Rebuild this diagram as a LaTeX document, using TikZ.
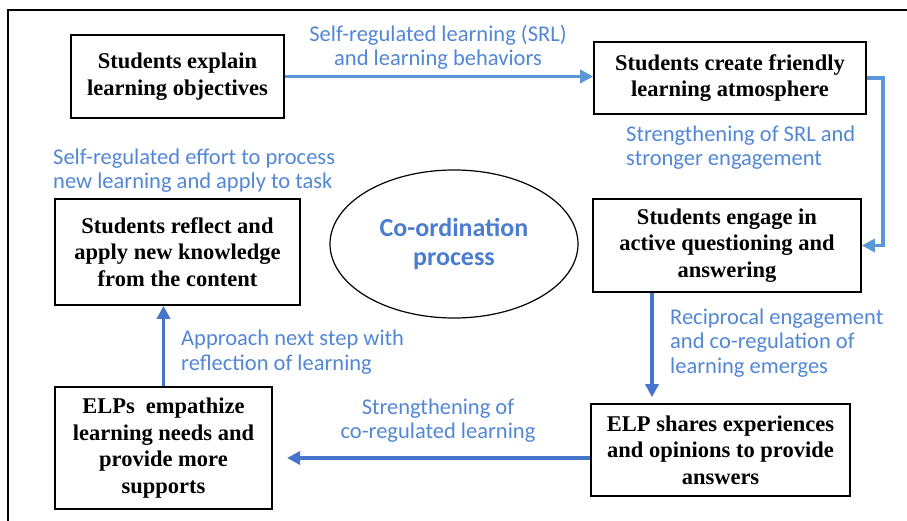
\documentclass[tikz,border=0pt]{standalone}
\usepackage{fontspec}
\setmainfont{Liberation Serif}
\newfontfamily\lblfont{Carlito}
\usetikzlibrary{arrows.meta,shapes.geometric}
\definecolor{lblblue}{HTML}{5287D6}
\definecolor{elblue}{HTML}{4A7DD0}
\definecolor{arrblue}{HTML}{4676CC}
\definecolor{arrlight}{HTML}{5B97D8}
\begin{document}
\begin{tikzpicture}[x=1pt,y=-1pt,
  boxnode/.style={draw=black, line width=1.6pt, align=center,
    font=\bfseries\fontsize{22.5}{26.5}\selectfont, inner sep=0pt},
  lbl/.style={text=lblblue, font=\lblfont\fontsize{22.5}{24.5}\selectfont, inner sep=0pt},
  flow/.style={draw=arrblue, line width=3.5pt, -{Triangle[length=13pt,width=13pt]}},
  flowlight/.style={flow, draw=arrlight},
]
\useasboundingbox (0,0) rectangle (907,521);
% frame
\draw[line width=1.5pt] (8,521) -- (8,10) -- (907,10);

% boxes
\node[boxnode, minimum width=213pt, minimum height=83pt] (b1) at (177.5,76.5)
  {Students explain\\learning objectives};
\node[boxnode, minimum width=272pt, minimum height=72pt] (b2) at (730,78)
  {Students create friendly\\learning atmosphere};
\node[boxnode, minimum width=268pt, minimum height=93pt] (b3) at (727,245.5)
  {Students engage in\\active questioning and\\answering};
\node[boxnode, minimum width=259pt, minimum height=92pt] (b4) at (720.5,450)
  {ELP shares experiences\\and opinions to provide\\answers};
\node[boxnode, minimum width=217pt, minimum height=122pt] (b5) at (163.5,448)
  {ELPs\ \ empathize\\learning needs and\\provide more\\supports};
\node[boxnode, minimum width=245pt, minimum height=106pt] (b6) at (177.5,252)
  {Students reflect and\\apply new knowledge\\from the content};

% ellipse
\node[ellipse, draw=black, line width=1.2pt, minimum width=248pt, minimum height=148pt,
  inner sep=0pt, align=center, text=elblue,
  font=\lblfont\bfseries\fontsize{26}{29}\selectfont] (el) at (454,244)
  {Co-ordination\\process};

% connectors
\coordinate (c3) at (652,0);
\coordinate (t4) at (287,458);
\draw[flowlight] (b1.east) -- (b1.east -| b2.west);
\draw[flowlight] (b2.east) -- ++(16,0) |- (b3.east);
\draw[flow, shorten >=6pt] (c3 |- b3.south) -- (c3 |- b4.north);
\draw[flow] (b4.west |- t4) -- (t4);
\draw[flow] (b5.north) -- (b5.north |- b6.south);

% labels
\node[lbl, align=center] (l1) at (438,47)
  {Self-regulated learning (SRL)\\and learning behaviors};
\node[lbl, align=left, anchor=west] (l2) at (626,147.5)
  {Strengthening of SRL and\\stronger engagement};
\node[lbl, align=left, anchor=west] (l3) at (670,343)
  {Reciprocal engagement\\and co-regulation of\\learning emerges};
\node[lbl, align=center] (l4) at (438,420.5)
  {Strengthening of\\co-regulated learning};
\node[lbl, align=left, anchor=west] (l5) at (181,352)
  {Approach next step with\\reflection of learning};
\node[lbl, align=left, anchor=west] (l6) at (53,170.5)
  {Self-regulated effort to process\\new learning and apply to task};
\end{tikzpicture}
\end{document}
